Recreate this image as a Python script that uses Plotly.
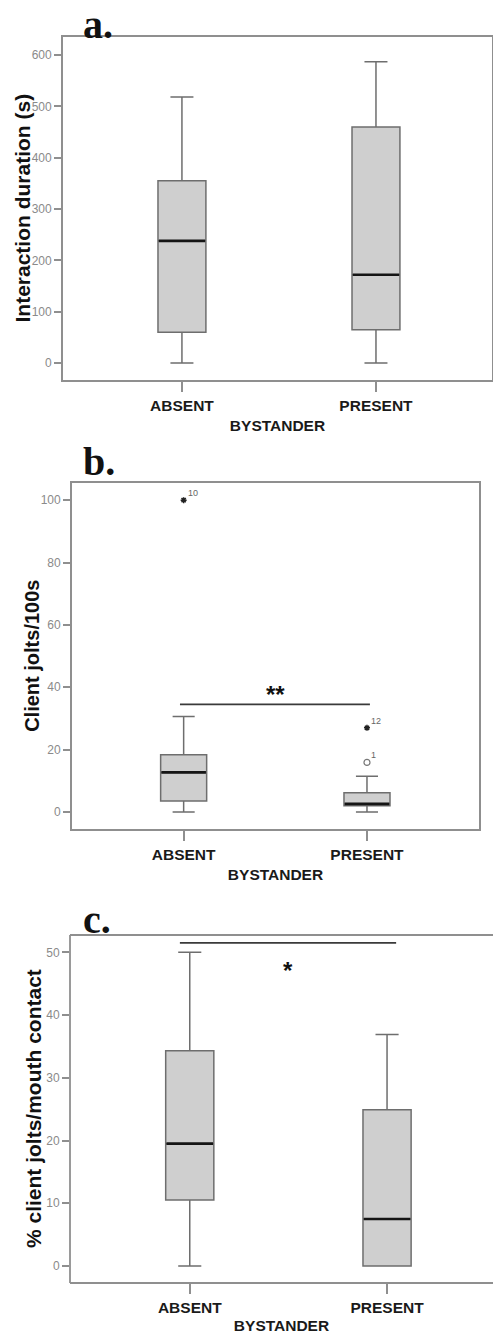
import plotly.graph_objects as go

# ---- data -------------------------------------------------------------
CATEGORIES = ["ABSENT", "PRESENT"]
X_TITLE = "BYSTANDER"

# panel a: interaction duration (s)
A_LOW = [0, 0]
A_Q1 = [60, 65]
A_MED = [238, 172]
A_Q3 = [355, 460]
A_HIGH = [518, 587]

# panel b: client jolts per 100 s
B_LOW = [0, 0]
B_Q1 = [3.5, 2.0]
B_MED = [12.7, 2.6]
B_Q3 = [18.4, 6.2]
B_HIGH = [30.6, 11.5]
B_EXTREME_X = [0, 1]
B_EXTREME_Y = [100, 27]
B_EXTREME_ID = ["10", "12"]
B_OUTLIER_X = [1]
B_OUTLIER_Y = [15.9]
B_OUTLIER_ID = ["1"]
B_SIG = ("**", 34.5)

# panel c: % client jolts / mouth contact
C_LOW = [0, 0]
C_Q1 = [10.5, 0]
C_MED = [19.5, 7.5]
C_Q3 = [34.3, 24.9]
C_HIGH = [50, 36.9]
C_SIG = ("*", 51.5)

# ---- styling ----------------------------------------------------------
W, H = 493, 1334
FILL = "#cfcfcf"
EDGE = "#6e6e6e"
FRAME = "#8f8f8f"
TICKFONT = dict(family="Liberation Sans, Arial", size=12, color="#8a8a8a")
CATFONT = dict(family="Liberation Sans, Arial", size=15.5, color="#1a1a1a")
TITLEFONT = dict(family="Liberation Sans, Arial", size=21, color="#111111")
LETTERFONT = dict(family="Liberation Serif, Times New Roman", size=40, color="#111111")


def px_x(px):
    return px / W


def px_y(px):
    return 1 - px / H


panels = [
    dict(low=A_LOW, q1=A_Q1, med=A_MED, q3=A_Q3, high=A_HIGH,
         xdom=[px_x(63), px_x(492)], ydom=[px_y(380), px_y(37)],
         xr=[-0.613, 1.598], yr=[-33.1, 635.1], dtick=100,
         ytitle="Interaction duration (s)", ytitle_x=22, tsize=21,
         width=0.247, letter="a.", letter_y=24, closed=True),
    dict(low=B_LOW, q1=B_Q1, med=B_MED, q3=B_Q3, high=B_HIGH,
         xdom=[px_x(72), px_x(479)], ydom=[px_y(829), px_y(482.7)],
         xr=[-0.609, 1.611], yr=[-5.45, 105.6], dtick=20,
         ytitle="Client jolts/100s", ytitle_x=32, tsize=20,
         width=0.251, letter="b.", letter_y=461, closed=True),
    dict(low=C_LOW, q1=C_Q1, med=C_MED, q3=C_Q3, high=C_HIGH,
         xdom=[px_x(70), 1.0], ydom=[px_y(1283), px_y(935)],
         xr=[-0.607, 1.537], yr=[-2.71, 52.76], dtick=10,
         ytitle="% client jolts/mouth contact", ytitle_x=33, tsize=21,
         width=0.244, letter="c.", letter_y=919, closed=False),
]

fig = go.Figure()
layout = dict(width=W, height=H, autosize=False,
              margin=dict(l=0, r=0, t=0, b=0),
              paper_bgcolor="white", plot_bgcolor="white",
              showlegend=False, annotations=[], shapes=[])

xpos = list(range(len(CATEGORIES)))

for i, p in enumerate(panels, start=1):
    xa = "x" if i == 1 else f"x{i}"
    ya = "y" if i == 1 else f"y{i}"
    xkey = "xaxis" if i == 1 else f"xaxis{i}"
    ykey = "yaxis" if i == 1 else f"yaxis{i}"

    fig.add_trace(go.Box(
        x=xpos, q1=p["q1"], median=p["med"], q3=p["q3"],
        lowerfence=p["low"], upperfence=p["high"],
        width=p["width"], whiskerwidth=0.48,
        fillcolor=FILL, line=dict(color=EDGE, width=1.5),
        boxpoints=False, hoverinfo="skip",
        xaxis=xa, yaxis=ya,
    ))
    # darker median bars drawn over each box
    hw = p["width"] / 2
    for xi, m in zip(xpos, p["med"]):
        fig.add_trace(go.Scatter(
            x=[xi - hw + 0.004, xi + hw - 0.004], y=[m, m], mode="lines",
            line=dict(color="#151515", width=2.6), hoverinfo="skip",
            xaxis=xa, yaxis=ya,
        ))

    layout[xkey] = dict(
        domain=p["xdom"], anchor=ya, range=p["xr"],
        tickmode="array", tickvals=xpos,
        ticktext=[f"<b>{c}</b>" for c in CATEGORIES],
        ticks="outside", ticklen=10, tickwidth=1.5, tickcolor=FRAME,
        tickfont=CATFONT, showgrid=False, zeroline=False,
        showline=p["closed"], linecolor=FRAME, linewidth=1.8, mirror=p["closed"],
        title=dict(text=f"<b>{X_TITLE}</b>", font=CATFONT, standoff=8),
    )
    layout[ykey] = dict(
        domain=p["ydom"], anchor=xa, range=p["yr"],
        tick0=0, dtick=p["dtick"],
        ticks="outside", ticklen=7, tickwidth=1.5, tickcolor=FRAME,
        tickfont=TICKFONT, showgrid=False, zeroline=False,
        showline=p["closed"], linecolor=FRAME, linewidth=1.8, mirror=p["closed"],
    )
    if not p["closed"]:
        # open frame: left, bottom and top edges; the right side runs off the page
        for x0, y0, x1, y1 in [(0, 0, 0, 1), (0, 0, 1.05, 0), (0, 1, 1.05, 1)]:
            layout["shapes"].append(dict(
                type="line", xref=f"{xa} domain", yref=f"{ya} domain",
                x0=x0, x1=x1, y0=y0, y1=y1,
                line=dict(color=FRAME, width=1.8),
            ))

    layout["annotations"].append(dict(
        text=f"<b>{p['ytitle']}</b>", textangle=-90,
        xref="paper", x=px_x(p["ytitle_x"]), xanchor="center",
        yref=f"{ya} domain", y=0.5, yanchor="middle",
        showarrow=False, font=dict(TITLEFONT, size=p["tsize"]),
    ))
    layout["annotations"].append(dict(
        text=f"<b>{p['letter']}</b>",
        xref="paper", x=px_x(81), xanchor="left",
        yref="paper", y=px_y(p["letter_y"]), yanchor="middle",
        showarrow=False, font=LETTERFONT,
    ))

# extreme values (*) and outliers (o) with case numbers in panel b
fig.add_trace(go.Scatter(
    x=B_EXTREME_X, y=B_EXTREME_Y, mode="markers",
    marker=dict(symbol="asterisk-open", size=5, color="#222222",
                line=dict(color="#222222", width=1.5)),
    hoverinfo="skip", xaxis="x2", yaxis="y2",
))
fig.add_trace(go.Scatter(
    x=B_OUTLIER_X, y=B_OUTLIER_Y, mode="markers",
    marker=dict(symbol="circle-open", size=6, color="#777777",
                line=dict(color="#777777", width=1.2)),
    hoverinfo="skip", xaxis="x2", yaxis="y2",
))
for xs, ys, ids in [(B_EXTREME_X, B_EXTREME_Y, B_EXTREME_ID),
                    (B_OUTLIER_X, B_OUTLIER_Y, B_OUTLIER_ID)]:
    for xv, yv, lab in zip(xs, ys, ids):
        layout["annotations"].append(dict(
            text=lab, x=xv, y=yv, xref="x2", yref="y2",
            xanchor="left", yanchor="bottom", xshift=2, yshift=0,
            showarrow=False,
            font=dict(family="Liberation Sans, Arial", size=9, color="#666666"),
        ))

# significance bars
for xa, ya, (mark, level), x0, x1, ty in [
    ("x2", "y2", B_SIG, -0.02, 1.016, 10),
    ("x3", "y3", C_SIG, -0.05, 1.046, -28),
]:
    layout["shapes"].append(dict(
        type="line", xref=xa, yref=ya, x0=x0, x1=x1, y0=level, y1=level,
        line=dict(color="#3a3a3a", width=1.6),
    ))
    layout["annotations"].append(dict(
        text=f"<b>{mark}</b>", x=0.5, y=level, xref=xa, yref=ya,
        xanchor="center", yanchor="middle", yshift=ty, showarrow=False,
        font=dict(family="Liberation Sans, Arial", size=24, color="#111111"),
    ))

fig.update_layout(**layout)
fig.write_html("out.html")
